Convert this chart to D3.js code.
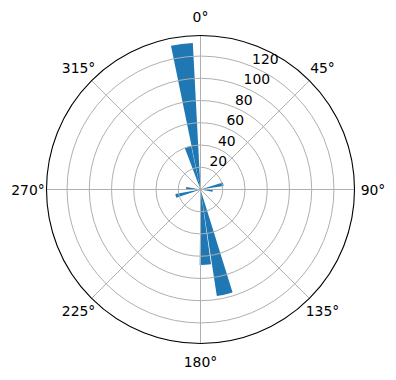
<!DOCTYPE html>
<html>
<head>
<meta charset="utf-8">
<script src="https://cdn.jsdelivr.net/npm/d3@7"></script>
<style>
  body { margin: 0; background: #fff; }
  svg text { font-family: "DejaVu Sans", sans-serif; font-size: 13.9px; fill: #000; }
</style>
</head>
<body>
<div id="chart"></div>
<script>
// angle bins (degrees, clockwise from north) and their counts
const binCenters = [77, 96, 167, 176.3, 255.3, 275.6, 343.6, 352.7];
const counts = [21, 11, 97, 68, 23, 13, 40, 132];
const barWidthDeg = 8.6;

const thetaTicks = [0, 45, 90, 135, 180, 225, 270, 315];
const rTicks = [20, 40, 60, 80, 100, 120];

const width = 396, height = 380;
const cx = 200.5, cy = 189.5, outerR = 154;
const rMax = 138.5;

const svg = d3.select('#chart').append('svg')
    .attr('width', width)
    .attr('height', height);

const g = svg.append('g').attr('transform', `translate(${cx},${cy})`);

const r = d3.scaleLinear().domain([0, rMax]).range([0, outerR]);
const rad = d => d * Math.PI / 180;

// bars
const arc = d3.arc()
    .innerRadius(0)
    .outerRadius(d => r(d.value))
    .startAngle(d => rad(d.angle - barWidthDeg / 2))
    .endAngle(d => rad(d.angle + barWidthDeg / 2));

const bars = binCenters.map((a, i) => ({ angle: a, value: counts[i] }));

g.selectAll('path.bar')
    .data(bars)
    .enter().append('path')
    .attr('class', 'bar')
    .attr('d', arc)
    .attr('fill', '#1f77b4');

// grid (drawn above bars, like matplotlib)
g.selectAll('circle.rgrid')
    .data(rTicks)
    .enter().append('circle')
    .attr('class', 'rgrid')
    .attr('r', d => r(d))
    .attr('fill', 'none')
    .attr('stroke', '#b0b0b0')
    .attr('stroke-width', 1);

g.selectAll('line.tgrid')
    .data(thetaTicks)
    .enter().append('line')
    .attr('class', 'tgrid')
    .attr('x1', 0)
    .attr('y1', 0)
    .attr('x2', d => outerR * Math.sin(rad(d)))
    .attr('y2', d => -outerR * Math.cos(rad(d)))
    .attr('stroke', '#b0b0b0')
    .attr('stroke-width', 1);

// outer spine
g.append('circle')
    .attr('r', outerR)
    .attr('fill', 'none')
    .attr('stroke', '#000')
    .attr('stroke-width', 1.1);

// angular labels
const labelR = outerR + 18.5;
g.selectAll('text.tlabel')
    .data(thetaTicks)
    .enter().append('text')
    .attr('class', 'tlabel')
    .attr('x', d => labelR * Math.sin(rad(d)))
    .attr('y', d => -labelR * Math.cos(rad(d)))
    .attr('text-anchor', 'middle')
    .attr('dominant-baseline', 'central')
    .text(d => `${d}°`);

// radial labels at 22.5°
const rLabelAngle = rad(22.5);
g.selectAll('text.rlabel')
    .data(rTicks)
    .enter().append('text')
    .attr('class', 'rlabel')
    .attr('x', d => r(d) * Math.sin(rLabelAngle) + 0.5)
    .attr('y', d => -r(d) * Math.cos(rLabelAngle) - 2.5)
    .attr('text-anchor', 'start')
    .text(d => d);
</script>
</body>
</html>
